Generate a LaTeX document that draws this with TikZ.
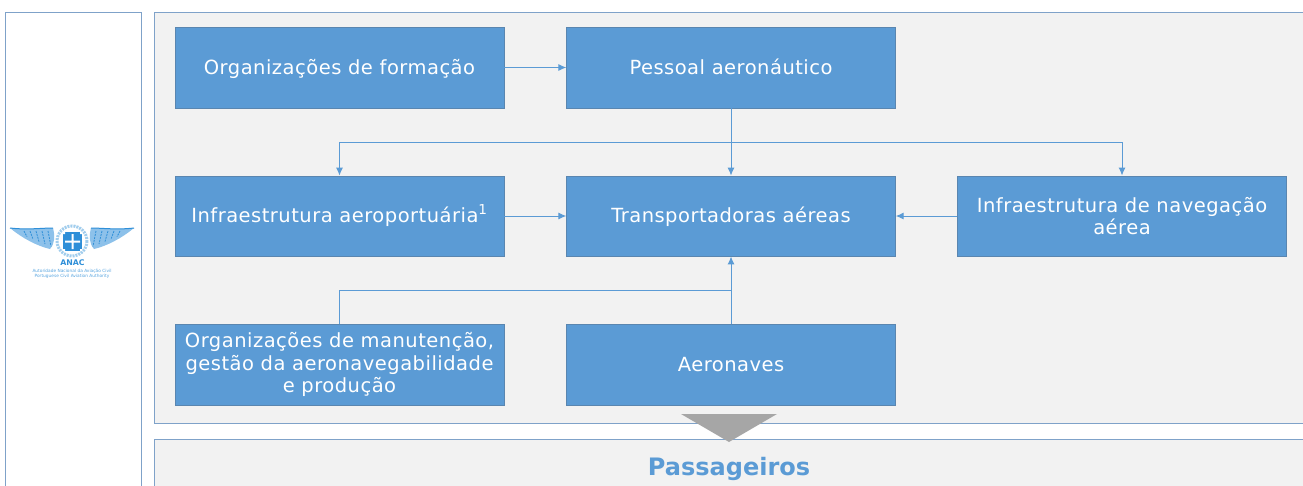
\documentclass[tikz,border=0pt]{standalone}
\usepackage{fontspec}
\usetikzlibrary{arrows.meta}
\setmainfont{DejaVu Sans}
\definecolor{boxblue}{HTML}{5B9BD5}
\definecolor{boxline}{HTML}{5A86B0}
\definecolor{panelline}{HTML}{7FA2C9}
\definecolor{panelgrey}{HTML}{F2F2F2}
\definecolor{logoblue}{HTML}{2F8FD8}
\tikzset{
	bluebox/.style={draw=boxline, fill=boxblue, text=white, minimum width=329pt, minimum height=80.5pt, inner sep=0pt, align=center, font=\fontsize{19.5}{22.5}\selectfont\addfontfeature{LetterSpace=2.5}},
	oneline/.style={text height=17pt, text depth=4pt},
	panel/.style={draw=panelline, line width=1pt},
	link/.style={draw=boxblue, line width=1pt},
	linkarrow/.style={link, -{Latex[length=8pt,width=7pt]}}
}
\begin{document}
\begin{tikzpicture}[x=1pt, y=-1pt]
\useasboundingbox (0,0) rectangle (1303,485);
\clip (0,0) rectangle (1303,485);
\fill[white] (0,0) rectangle (1303,485);

% panels, cut off by the page
\draw[panel, fill=white] (5.5,520) -- (5.5,12.5) -- (141,12.5) -- (141,520);
\draw[panel, fill=panelgrey] (1320,12.5) -- (154,12.5) -- (154,423) -- (1320,423);
\draw[panel, fill=panelgrey] (1320,439) -- (154,439) -- (154,520) -- (1320,520);

% boxes
\node (formacao) [bluebox, oneline] at (339.5,67.5) {Organizações de formação};
\node (pessoal) [bluebox, oneline] at (731,67.5) {Pessoal aeronáutico};
\node (aeroporto) [bluebox, oneline] at (339.5,216) {Infraestrutura aeroportuária\textsuperscript{1}};
\node (transp) [bluebox, oneline] at (731,216) {Transportadoras aéreas};
\node (navegacao) [bluebox] at (1122,216) {Infraestrutura de navegação\\aérea};
\node (manut) [bluebox] at (339.5,364.5) {Organizações de manutenção,\\gestão da aeronavegabilidade\\e produção};
\node (aeronaves) [bluebox, oneline] at (731,364.5) {Aeronaves};

% connectors
\coordinate (split) at (731,142);
\coordinate (join) at (731,290);
\draw[linkarrow] (formacao) -- (pessoal);
\draw[linkarrow] (pessoal) -- (transp);
\draw[linkarrow] (split) -| (aeroporto.north);
\draw[linkarrow] (split) -| (navegacao.north);
\draw[linkarrow] (aeroporto) -- (transp);
\draw[linkarrow] (navegacao) -- (transp);
\draw[linkarrow] (aeronaves) -- (transp);
\draw[link] (manut.north) |- (join);

% arrow to the bottom panel
\fill[black!35] (681,414) -- (777,414) -- (729,442) -- cycle;
\node (passageiros) at (729,467) [text=boxblue, font=\fontsize{24}{26}\selectfont\bfseries, text height=20pt, text depth=4pt] {Passageiros};

% logo
\foreach \s in {1,-1} {
	\begin{scope}[xshift=72pt, xscale=\s]
	\fill[logoblue!55] (62,228) .. controls (45,230) and (30,228) .. (19,228) .. controls (17,236) and (17,243) .. (22,249) .. controls (35,246) and (50,238) .. (62,228);
	\draw[logoblue, line width=1pt] (62,228) .. controls (45,230) and (30,228) .. (19,228);
	\foreach \x in {24,30,...,48} {
		\draw[logoblue, line width=0.8pt, dash pattern=on 2pt off 1pt] (\x,231) -- (\x-3,\x/-2.5+256);
	}
	\end{scope}
}
\draw[logoblue!45, line width=3pt, dash pattern=on 2pt off 1pt] (72,241) circle (15);
\fill[logoblue] (63,232) rectangle (82,251);
\fill[white] (63,232) rectangle (65,234) (80,232) rectangle (82,234) (63,249) rectangle (65,251) (80,249) rectangle (82,251);
\fill[white] (71.5,234) rectangle (73.5,249) (65,240.5) rectangle (80,242.5);
\node (anac) at (72.5,263) [text=logoblue, font=\fontsize{7.8}{8}\selectfont\bfseries] {ANAC};
\node (logotext) at (72,273.5) [text=logoblue!80, align=center, font=\fontsize{4.3}{5}\selectfont] {Autoridade Nacional da Aviação Civil\\Portuguese Civil Aviation Authority};
\end{tikzpicture}
\end{document}
